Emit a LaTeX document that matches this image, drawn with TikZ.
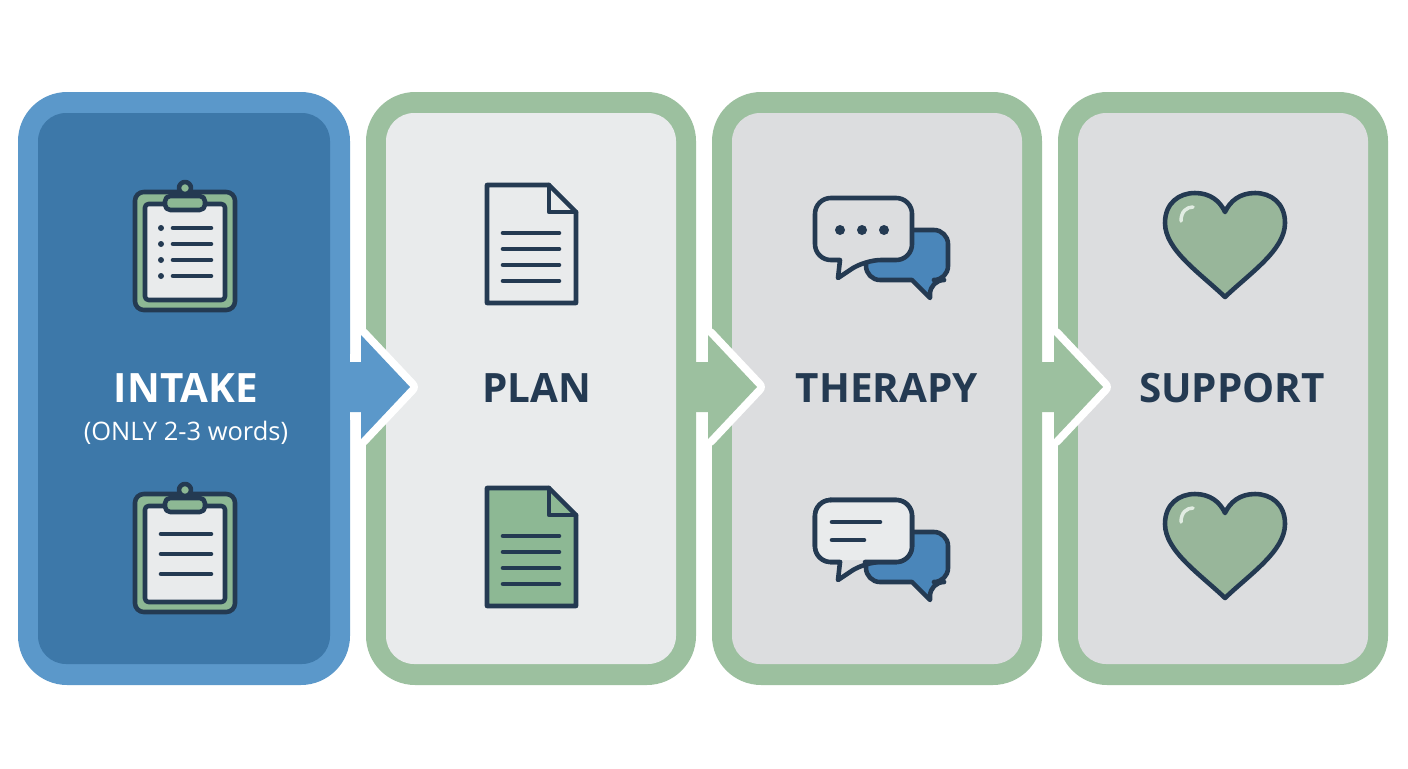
\documentclass[tikz,border=0pt]{standalone}
\usepackage{fontspec}
\setmainfont{Open Sans}
\definecolor{navy}{HTML}{243A52}
\definecolor{blueout}{HTML}{5B98CA}
\definecolor{bluein}{HTML}{3D78A9}
\definecolor{greenout}{HTML}{9CC09F}
\definecolor{greenfill}{HTML}{8DB894}
\definecolor{paper}{HTML}{E9EBEC}
\definecolor{grayin}{HTML}{DCDDDF}
\definecolor{chatblue}{HTML}{4A86BA}
\tikzset{
  outer/.style={rounded corners=28, draw=none},
  inner/.style={rounded corners=16, draw=none},
  title/.style={font=\bfseries\fontsize{23}{26}\selectfont, text=navy},
  icon/.style={draw=navy, line width=2.6pt, line join=round, line cap=round},
  pics/clipboard/.style={code={
    \draw[icon, fill=greenfill, rounded corners=5] (-50,-58) rectangle (50,60);
    \draw[icon, fill=paper, rounded corners=2] (-40,-46) rectangle (40,50);
    \draw[icon, fill=greenfill, rounded corners=3] (-20,-54) rectangle (20,-40);
    \draw[icon, fill=greenfill] (0,-62) circle (6);
    #1
  }},
  pics/doc/.style={code={
    \draw[icon, fill=#1] (-44,-60) -- (18,-60) -- (45,-33) -- (45,58) -- (-44,58) -- cycle;
    \draw[icon] (18,-60) -- (18,-33) -- (45,-33);
    \foreach \yy in {-12,4,20,36} \draw[icon] (-28,\yy) -- (28,\yy);
  }},
  pics/heart/.style={code={
    \draw[icon, fill=greenout!85!gray] (0,52) .. controls (-25,28) and (-60,5) .. (-60,-22)
      .. controls (-60,-42) and (-46,-52) .. (-30,-52) .. controls (-15,-52) and (-5,-44) .. (0,-33)
      .. controls (5,-44) and (15,-52) .. (30,-52) .. controls (46,-52) and (60,-42) .. (60,-22)
      .. controls (60,5) and (25,28) .. (0,52) -- cycle;
    \draw[line width=2pt, draw=white!70!greenout, line cap=round] (-44,-24) .. controls (-44,-34) and (-38,-38) .. (-32,-38);
  }}
}
\begin{document}
\begin{tikzpicture}[x=0.02cm, y=-0.02cm]
\useasboundingbox[fill=white] (0,0) rectangle (1408,768);
% panels
\fill[outer, blueout] (18,92) rectangle (350,685);
\fill[inner, bluein] (38,113) rectangle (330,664);
\foreach \x/\c in {366/paper, 712/grayin, 1058/grayin} {
  \fill[outer, greenout] (\x,92) rectangle (\x+330,685);
  \fill[inner, \c] (\x+20,113) rectangle (\x+310,664);
}
% chevrons
\foreach \b/\c in {350/blueout, 697/greenout, 1043/greenout} {
  \draw[white, line width=9pt, line join=round] (\b,362) -- (\b+11,362) -- (\b+11,335) -- (\b+60,387)
    -- (\b+11,439) -- (\b+11,412) -- (\b,412);
  \fill[\c] (\b-12,362) -- (\b+11,362) -- (\b+11,335) -- (\b+60,387) -- (\b+11,439) -- (\b+11,412)
    -- (\b-12,412) -- cycle;
}
% titles
\node[title, text=white] (intake) at (186,388) {INTAKE};
\node[font=\fontsize{14.5}{16}\selectfont, text=white] (intakesub) at (186,433) {(ONLY 2-3 words)};
\node[title] (plan) at (537,388) {PLAN};
\node[title] (therapy) at (887,388) {THERAPY};
\node[title] (support) at (1232,388) {SUPPORT};
% icons
\pic at (185,250) {clipboard={
  \foreach \yy in {-22,-6,10,26} {\fill[navy] (-24,\yy) circle (3); \draw[icon] (-12,\yy) -- (26,\yy);}}};
\pic at (185,552) {clipboard={
  \foreach \yy in {-18,2,22} \draw[icon] (-24,\yy) -- (26,\yy);}};
\pic at (531,245) {doc=paper};
\pic at (531,548) {doc=greenfill};
\foreach \cy/\kind in {230/1, 532/0} {
  \draw[icon, fill=chatblue, rounded corners=8] (866,\cy) -- (948,\cy) -- (948,\cy+50) -- (930,\cy+50)
     [sharp corners] -- (930,\cy+68) -- (912,\cy+50) [rounded corners=8] -- (866,\cy+50) -- cycle;
  \draw[icon, fill=grayin, rounded corners=9] (815,\cy-32) -- (912,\cy-32) -- (912,\cy+30) -- (865,\cy+30)
     [sharp corners] -- (838,\cy+48) -- (840,\cy+30) [rounded corners=9] -- (815,\cy+30) -- cycle;
  \ifnum\kind=1
    \foreach \dx in {840,862,884} \fill[navy] (\dx,\cy) circle (5);
  \else
    \fill[paper, rounded corners=6] (817,\cy-30) rectangle (910,\cy+28);
    \draw[icon, rounded corners=9] (830,\cy-32) -- (912,\cy-32) -- (912,\cy+30) -- (865,\cy+30);
    \draw[icon, rounded corners=9] (840,\cy+30) -- (815,\cy+30) -- (815,\cy-32) -- (830,\cy-32);
    \foreach \yy/\len in {-10/880, 8/864} \draw[icon] (832,\cy+\yy) -- (\len,\cy+\yy);
  \fi
}
\pic at (1225,245) {heart};
\pic at (1225,546) {heart};
\end{tikzpicture}
\end{document}
